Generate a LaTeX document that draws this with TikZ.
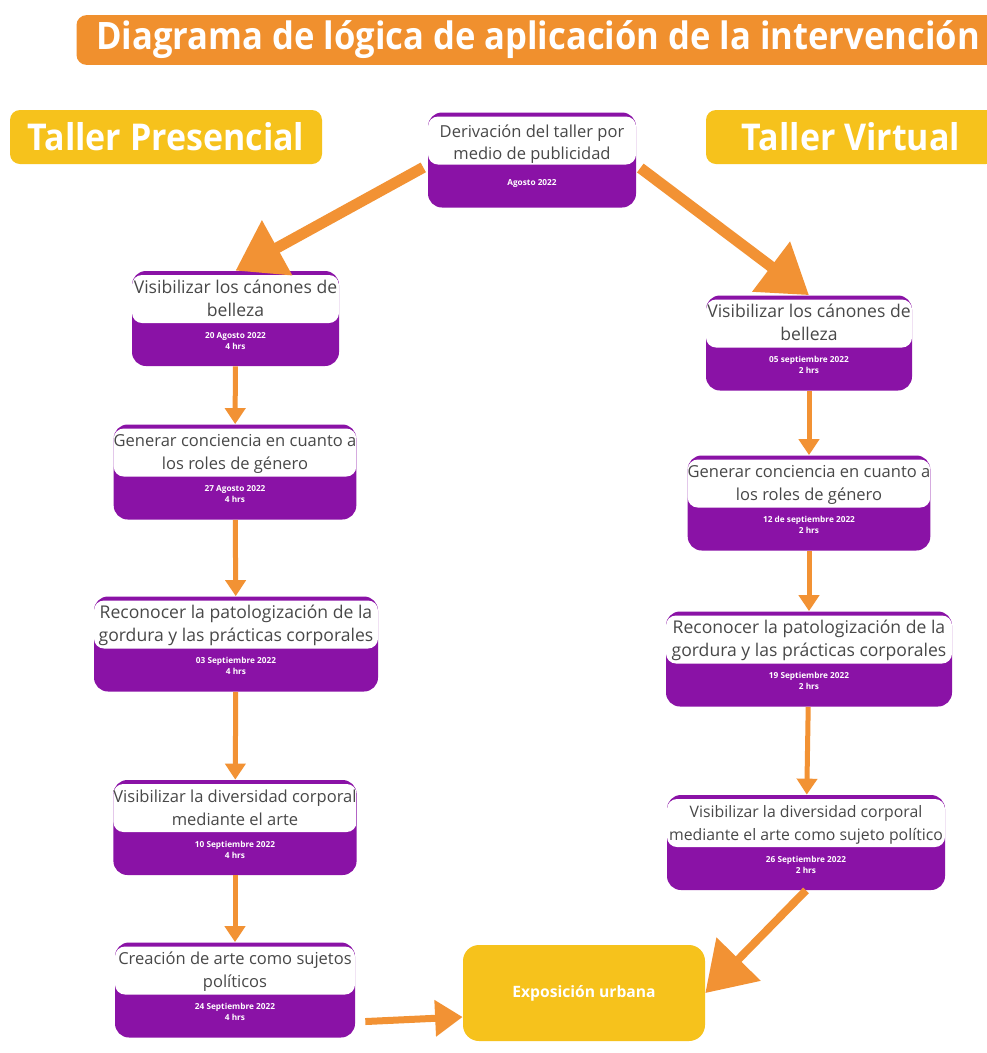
\documentclass[tikz,border=0pt]{standalone}
\usepackage{fontspec}
\setmainfont{Open Sans}
\usetikzlibrary{arrows.meta}
\definecolor{morado}{RGB}{138,18,166}
\definecolor{naranja}{RGB}{242,146,52}
\definecolor{naranjatitulo}{RGB}{240,144,46}
\definecolor{amarillo}{RGB}{246,194,28}
\definecolor{gristexto}{RGB}{72,72,72}
\newcommand{\fechafont}{\color{white}\bfseries\fontsize{4.7}{6}\selectfont}
\newcommand{\tarjetatxt}[3]{\rule{0pt}{9pt}#1\\[-0.5pt]{\fechafont #2}\\[-6.7pt]{\fechafont #3}\rule[-6pt]{0pt}{6pt}}
\tikzset{
	tarjeta/.style={fill=morado, rounded corners=2.8mm, minimum width=#1*0.2mm, minimum height=19mm,
		inner sep=0pt, align=center, text=gristexto, font=\fontsize{9.4}{13}\selectfont,
		path picture={\fill[white, rounded corners=2mm] ([yshift=-0.8mm]path picture bounding box.north west)
			rectangle ([yshift=-10.4mm]path picture bounding box.north east);}},
	etiqueta/.style={fill=amarillo, rounded corners=2mm, minimum height=10.8mm, text=white,
		font=\bfseries\fontsize{21}{24}\selectfont},
	flecha/.style={draw=naranja, line width=1mm, -{Triangle[width=4mm,length=3.2mm]}},
	flechamedia/.style={draw=naranja, line width=1.4mm, -{Triangle[width=7mm,length=5.5mm]}},
	flechagrande/.style={draw=naranja, line width=2.2mm, -{Triangle[width=12mm,length=9.5mm]}}
}
\begin{document}
\begin{tikzpicture}[x=0.2mm,y=-0.2mm]
	\fill[white] (0,0) rectangle (987,1053);
	\useasboundingbox (0,0) rectangle (987,1053);
	% cabecera
	\node[fill=naranjatitulo, rounded corners=2mm, minimum width=923*0.2mm, minimum height=8.8mm, text=white,
		font=\bfseries\fontsize{21.5}{24}\selectfont] (titulo) at (538,40)
		{\scalebox{0.915}[1]{Diagrama de lógica de aplicación de la intervención}};
	\node[etiqueta, minimum width=312*0.2mm] (presencial) at (166,137) {\scalebox{0.92}[1]{Taller Presencial}};
	\node[etiqueta, minimum width=290*0.2mm] (virtual) at (851,137) {\scalebox{0.92}[1]{Taller Virtual}};
	\node[tarjeta=208] (der) at (532,160)
		{\rule{0pt}{9pt}Derivación del taller por\\medio de publicidad\\[1.3pt]{\fechafont Agosto 2022}\rule[-7.8pt]{0pt}{7.8pt}};
	% taller presencial
	\node[tarjeta=207, font=\fontsize{10}{13}\selectfont] (p1) at (235.5,318.5) {\tarjetatxt{Visibilizar los cánones de\\belleza}{20 Agosto 2022}{4 hrs}};
	\node[tarjeta=240] (p2) at (235,472) {\tarjetatxt{Generar conciencia en cuanto a\\los roles de género}{27 Agosto 2022}{4 hrs}};
	\node[tarjeta=284, font=\fontsize{10}{13}\selectfont] (p3) at (236,644) {\tarjetatxt{Reconocer la patologización de la\\gordura y las prácticas corporales}{03 Septiembre 2022}{4 hrs}};
	\node[tarjeta=240] (p4) at (235,827.5) {\tarjetatxt{Visibilizar la diversidad corporal\\mediante el arte}{10 Septiembre 2022}{4 hrs}};
	\node[tarjeta=240] (p5) at (235,990) {\tarjetatxt{Creación de arte como sujetos\\políticos}{24 Septiembre 2022}{4 hrs}};
	% taller virtual
	\node[tarjeta=206, font=\fontsize{10}{13}\selectfont] (v1) at (809,343) {\tarjetatxt{Visibilizar los cánones de\\belleza}{05 septiembre 2022}{2 hrs}};
	\node[tarjeta=242] (v2) at (809,503) {\tarjetatxt{Generar conciencia en cuanto a\\los roles de género}{12 de septiembre 2022}{2 hrs}};
	\node[tarjeta=286, font=\fontsize{10}{13}\selectfont] (v3) at (809,659) {\tarjetatxt{Reconocer la patologización de la\\gordura y las prácticas corporales}{19 Septiembre 2022}{2 hrs}};
	\node[tarjeta=278, font=\fontsize{9}{13}\selectfont] (v4) at (806,842.5) {\tarjetatxt{Visibilizar la diversidad corporal\\mediante el arte como sujeto político}{26 Septiembre 2022}{2 hrs}};
	\node[fill=amarillo, rounded corners=3.2mm, minimum width=242*0.2mm, minimum height=19.2mm, text=white,
		font=\bfseries\fontsize{8.9}{10}\selectfont] (expo) at (584,993) {Exposición urbana};
	% flechas
	\draw[flechagrande, shorten <=1mm] ([yshift=-1mm]der.west) -- (p1.north);
	\draw[flechagrande, shorten <=1mm] ([yshift=-1mm]der.east) -- (v1.north);
	\draw[flecha] (p1) -- (p2);
	\draw[flecha] (p2) -- (p3);
	\draw[flecha] (p3) -- (p4);
	\draw[flecha] (p4) -- (p5);
	\draw[flecha] (v1) -- (v2);
	\draw[flecha] (v2) -- (v3);
	\draw[flecha] (v3) -- (v4);
	\draw[flechamedia, shorten <=2mm] ([yshift=-6.4mm]p5.east) -- ([yshift=-4.8mm]expo.west);
	\draw[flechagrande, line width=1.6mm] (v4.south) -- (expo.east);
\end{tikzpicture}
\end{document}
